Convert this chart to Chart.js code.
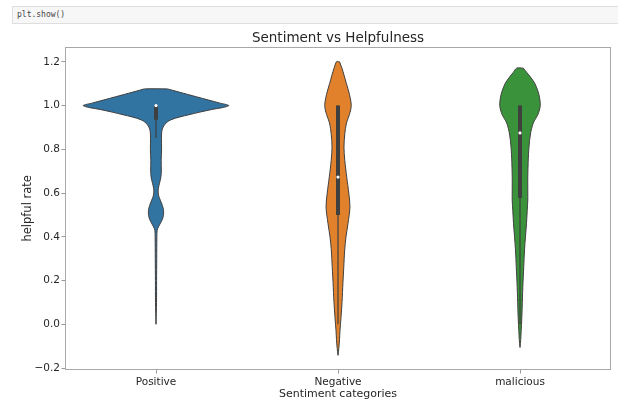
<!DOCTYPE html>
<html>
<head>
<meta charset="utf-8">
<script src="https://cdn.jsdelivr.net/npm/chart.js@4.4.1/dist/chart.umd.min.js"></script>
<style>
  html, body { margin: 0; padding: 0; background: #fff; width: 618px; height: 401px; overflow: hidden; }
  #wrap { position: absolute; left: 0; top: 0; width: 618px; height: 401px; }
  #cell {
    position: absolute; left: 12px; top: 6px; width: 606px; height: 18px;
    box-sizing: border-box; background: #f7f7f7; border: 1px solid #dedede; border-right: none;
    font: 8px "DejaVu Sans Mono", monospace; color: #444; line-height: 16px; padding-left: 4px;
  }
</style>
</head>
<body>
<div id="wrap"><canvas id="chart" width="618" height="401"></canvas></div>
<div id="cell">plt.show()</div>
<script>
// Categories and axis ticks
const categories = ['Positive', 'Negative', 'malicious'];
const yTickValues = [-0.2, 0.0, 0.2, 0.4, 0.6, 0.8, 1.0, 1.2];
const yTickLabels = ['\u22120.2', '0.0', '0.2', '0.4', '0.6', '0.8', '1.0', '1.2'];

// Kernel density profiles (relative density at each helpful-rate level)
const positiveLevels = [1.076, 1.07, 1.063, 1.05, 1.04, 1.025, 1.012, 1.0, 0.99, 0.983, 0.97, 0.958, 0.948, 0.935, 0.92, 0.9, 0.88, 0.85, 0.8, 0.75, 0.7, 0.67, 0.645, 0.62, 0.6, 0.58, 0.555, 0.53, 0.508, 0.485, 0.465, 0.445, 0.43, 0.4, 0.3, 0.2, 0.1, 0.0];
const positiveDensity = [0.158, 0.225, 0.301, 0.445, 0.556, 0.723, 0.867, 1.0, 0.904, 0.781, 0.603, 0.452, 0.329, 0.205, 0.137, 0.096, 0.079, 0.075, 0.077, 0.071, 0.073, 0.066, 0.048, 0.032, 0.030, 0.044, 0.075, 0.099, 0.105, 0.093, 0.066, 0.033, 0.016, 0.012, 0.010, 0.008, 0.007, 0.0];

const negativeLevels = [1.2, 1.17, 1.14, 1.1, 1.05, 1.0, 0.96, 0.92, 0.87, 0.81, 0.75, 0.67, 0.6, 0.536, 0.46, 0.4, 0.34, 0.26, 0.19, 0.1, 0.03, -0.03, -0.07, -0.11, -0.142];
const negativeDensity = [0.021, 0.055, 0.082, 0.116, 0.158, 0.182, 0.158, 0.116, 0.093, 0.082, 0.093, 0.121, 0.148, 0.164, 0.137, 0.110, 0.092, 0.079, 0.068, 0.055, 0.041, 0.027, 0.021, 0.011, 0.0];

const maliciousLevels = [1.171, 1.15, 1.13, 1.1, 1.05, 1.0, 0.96, 0.92, 0.87, 0.81, 0.74, 0.673, 0.6, 0.568, 0.52, 0.46, 0.4, 0.34, 0.26, 0.19, 0.1, 0.03, -0.03, -0.07, -0.106];
const maliciousDensity = [0.045, 0.096, 0.144, 0.205, 0.260, 0.278, 0.247, 0.182, 0.144, 0.123, 0.112, 0.107, 0.107, 0.107, 0.099, 0.089, 0.075, 0.062, 0.051, 0.041, 0.032, 0.025, 0.016, 0.010, 0.0];

// Box summary for each category
const q1 = [0.935, 0.5, 0.577];
const q3 = [1.0, 1.0, 1.0];
const medians = [1.0, 0.673, 0.875];
const whiskerLow = [0.852, 0.0, 0.0];
const whiskerHigh = [1.0, 1.0, 1.0];

// Styling
const FILLS = ['#3274a1', '#e1812c', '#3a923a'];
const EDGE = '#3f3f3f';
const HALF_WIDTH = 0.4;          // widest violin half-width in category units
const TEXT = '#262626';
const FONT = 'DejaVu Sans';

const profiles = [
  { levels: positiveLevels, density: positiveDensity },
  { levels: negativeLevels, density: negativeDensity },
  { levels: maliciousLevels, density: maliciousDensity }
];

// Closed outline: right side top-to-bottom, then left side bottom-to-top
function outline(i, levels, density) {
  const right = levels.map((y, k) => ({ x: i + density[k] * HALF_WIDTH, y }));
  const left = levels.map((y, k) => ({ x: i - density[k] * HALF_WIDTH, y })).reverse();
  return right.concat(left, [right[0]]);
}

const datasets = [];
profiles.forEach((p, i) => {
  datasets.push({
    data: outline(i, p.levels, p.density),
    showLine: true, fill: 'shape', tension: 0.3,
    backgroundColor: FILLS[i], borderColor: EDGE, borderWidth: 1,
    pointRadius: 0, order: 3
  });
  datasets.push({
    data: [{ x: i, y: whiskerLow[i] }, { x: i, y: whiskerHigh[i] }],
    showLine: true, fill: false, borderColor: EDGE, borderWidth: 1.2,
    pointRadius: 0, order: 2
  });
  datasets.push({
    data: [{ x: i, y: q1[i] }, { x: i, y: q3[i] }],
    showLine: true, fill: false, borderColor: EDGE, borderWidth: 4, borderCapStyle: 'butt',
    pointRadius: 0, order: 1
  });
  datasets.push({
    data: [{ x: i, y: medians[i] }],
    showLine: false, pointRadius: 1.6, pointBorderWidth: 0,
    pointBackgroundColor: '#ffffff', order: 0
  });
});

// Axes frame around the plotting area
const frame = {
  id: 'frame',
  afterDatasetsDraw(chart) {
    const { ctx, chartArea: a } = chart;
    ctx.save();
    ctx.strokeStyle = '#a8a8a8';
    ctx.lineWidth = 1;
    ctx.strokeRect(Math.round(a.left) + 0.5, Math.round(a.top) + 0.5,
                   Math.round(a.right - a.left) - 1, Math.round(a.bottom - a.top) - 1);
    ctx.restore();
  }
};

Chart.defaults.font.family = FONT;
Chart.defaults.color = TEXT;

new Chart(document.getElementById('chart'), {
  type: 'scatter',
  data: { datasets },
  plugins: [frame],
  options: {
    responsive: false,
    animation: false,
    events: [],
    layout: { padding: { left: 0, right: 7, top: 0, bottom: 0 } },
    plugins: {
      legend: { display: false },
      tooltip: { enabled: false },
      title: {
        display: true, text: 'Sentiment vs Helpfulness', fullSize: false,
        color: TEXT, font: { size: 13.5, weight: 'normal' },
        padding: { top: 30.5, bottom: 0 }
      }
    },
    scales: {
      x: {
        type: 'linear', position: 'bottom', min: -0.5, max: 2.5,
        afterBuildTicks: s => { s.ticks = categories.map((_, i) => ({ value: i })); },
        afterFit: s => { s.height = 31; },
        border: { display: false },
        grid: { drawOnChartArea: false, drawTicks: true, tickLength: 3.5, color: '#999' },
        ticks: {
          padding: 2, color: TEXT, font: { size: 10.5 }, maxRotation: 0,
          callback: v => categories[v] !== undefined ? categories[v] : ''
        },
        title: {
          display: true, text: 'Sentiment categories', color: TEXT,
          font: { size: 11 }, padding: { top: 0, bottom: 0 }
        }
      },
      y: {
        type: 'linear', min: -0.209, max: 1.269,
        afterBuildTicks: s => { s.ticks = yTickValues.map(v => ({ value: v })); },
        afterFit: s => { s.width = 65; },
        border: { display: false },
        grid: { drawOnChartArea: false, drawTicks: true, tickLength: 3.5, color: '#999' },
        ticks: {
          padding: 1.5, color: TEXT, font: { size: 10.5 },
          callback: (v, idx) => yTickLabels[idx]
        },
        title: {
          display: true, text: 'helpful rate', color: TEXT,
          font: { size: 11.5 }, padding: { top: 21, bottom: 0 }
        }
      }
    }
  }
});
</script>
</body>
</html>
